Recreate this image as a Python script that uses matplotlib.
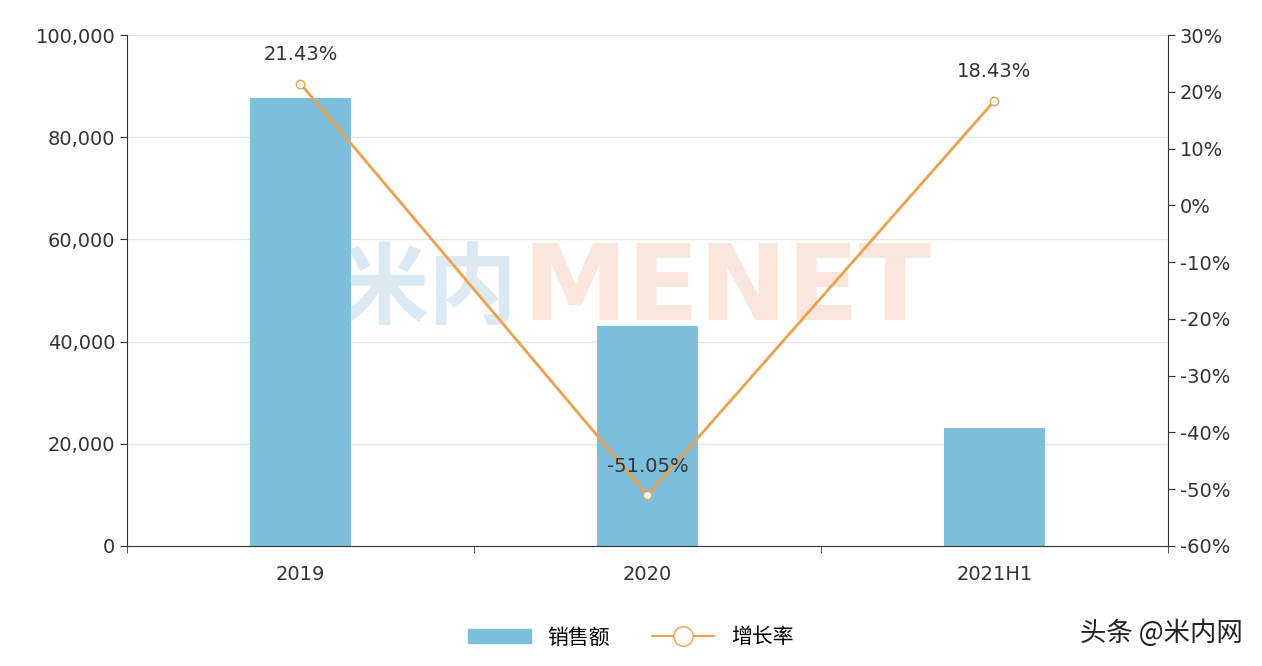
import matplotlib
matplotlib.use("Agg")
import matplotlib.pyplot as plt
from matplotlib.ticker import FuncFormatter

plt.rcParams['font.family'] = ['DejaVu Sans', 'Noto Sans CJK SC']

categories = ["2019", "2020", "2021H1"]
sales = [87700, 43000, 23000]
growth = [21.43, -51.05, 18.43]
growth_labels = ["21.43%", "-51.05%", "18.43%"]

fig = plt.figure(figsize=(12.62, 6.66), dpi=100)
ax = fig.add_axes([0.1006, 0.1802, 0.8249, 0.7672])
x = list(range(len(categories)))
ax.bar(x, sales, width=0.29, color="#7bbfdc", zorder=2, label="销售额")
ax.set_xlim(-0.5, 2.5)
ax.set_ylim(0, 100000)
ax.set_yticks(range(0, 100001, 20000))
ax.yaxis.set_major_formatter(FuncFormatter(lambda v, p: f"{int(v):,}"))
ax.set_xticks(x)
ax.set_xticklabels(categories)
ax.set_xticks([-0.5, 0.5, 1.5, 2.5], minor=True)
ax.tick_params(axis='x', which='major', length=0, pad=14)
ax.tick_params(axis='x', which='minor', length=5, color="#333333")
ax.tick_params(axis='y', length=5, color="#333333")
ax.tick_params(labelsize=14, labelcolor="#333333")
ax.grid(axis='y', color="#e6e6e6", lw=1, zorder=0)
for s in ["top", "right"]:
    ax.spines[s].set_visible(False)
ax.spines["left"].set_color("#333333")
ax.spines["bottom"].set_color("#333333")

ax.text(0.375, 0.5, "米内", transform=ax.transAxes, ha='right', va='center',
        fontsize=64, fontweight='bold', color="#dbe9f3", zorder=1,
        family=['Noto Sans CJK SC'])
ax.text(0.38, 0.5, "MENET", transform=ax.transAxes, ha='left', va='center',
        fontsize=76, fontweight='bold', color="#fbe6de", zorder=1)

ax2 = ax.twinx()
ax2.set_ylim(-60, 30)
ax2.set_yticks(range(-60, 31, 10))
ax2.yaxis.set_major_formatter(FuncFormatter(lambda v, p: f"{int(v)}%"))
ax2.tick_params(labelsize=14, labelcolor="#333333", length=5, color="#333333")
for s in ["top", "left", "bottom"]:
    ax2.spines[s].set_visible(False)
ax2.spines["right"].set_color("#333333")
ax2.plot(x, growth, color="#f0a04b", lw=2, marker='o', markersize=6,
         markerfacecolor='white', markeredgecolor="#f0a04b", zorder=3, label="增长率")
for xi, g, t in zip(x, growth, growth_labels):
    ax2.annotate(t, (xi, g), xytext=(0, 14), textcoords='offset points',
                 ha='center', va='bottom', fontsize=14, color="#333333")

from matplotlib.patches import Patch
from matplotlib.lines import Line2D
handles = [Patch(color="#7bbfdc"),
           Line2D([], [], color="#f0a04b", marker='o', markersize=14,
                  markerfacecolor='white', lw=1.5)]
fig.legend(handles, ["销售额", "增长率"], loc='center', bbox_to_anchor=(0.5, 0.043),
           ncol=2, frameon=False, handlelength=3, columnspacing=2,
           prop={'family': ['Noto Sans CJK SC'], 'size': 15})
fig.text(0.985, 0.05, "头条 @米内网", ha='right', va='center', fontsize=19, color="#222222",
         family=['Noto Sans CJK SC'])
fig.savefig("out.png", dpi=100)
